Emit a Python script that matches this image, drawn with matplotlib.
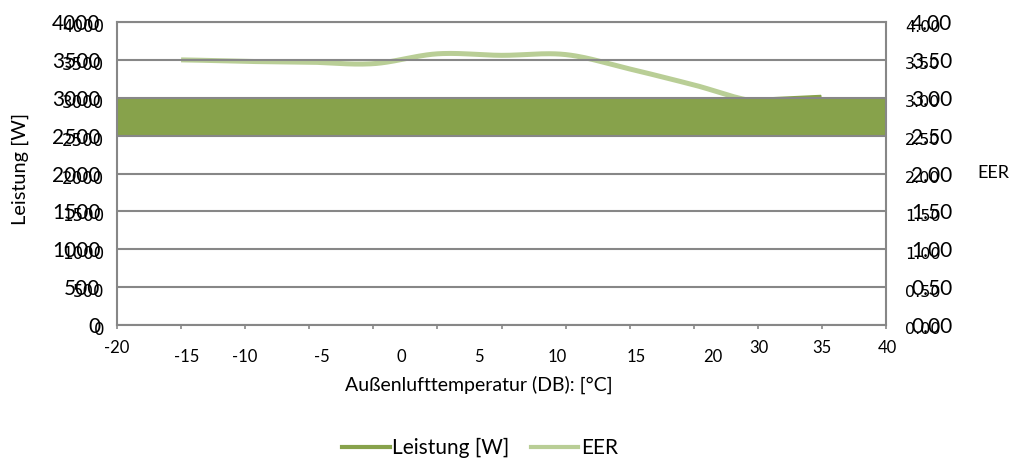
import matplotlib
matplotlib.use('Agg')
import matplotlib.pyplot as plt
import matplotlib.transforms as mtransforms
from matplotlib.lines import Line2D
import numpy as np

plt.rcParams['font.family'] = ['Lato', 'DejaVu Sans']

# category slots on the x axis; the series sit on slots 1..11
slots = list(range(13))
data_slots = list(range(1, 12))

eer = [3.50, 3.48, 3.47, 3.45, 3.58, 3.56, 3.57, 3.38, 3.17, 2.95, 3.00]
leistung = [2750, 2750, 2750, 2750, 2750, 2750, 2750, 2750, 2750, 2750, 2790]
band_lo = [2500] * 13
band_hi = [3000] * 13

y_ticks = [0, 500, 1000, 1500, 2000, 2500, 3000, 3500, 4000]
eer_ticks = [0.0, 0.5, 1.0, 1.5, 2.0, 2.5, 3.0, 3.5, 4.0]

x_labels_upper = ['-20', '30', '35', '40']
x_labels_upper_pos = [0.0, 10.02, 11.0, 12.02]
x_labels_lower = ['-15', '-10', '-5', '0', '5', '10', '15', '20']
x_labels_lower_pos = [1.08, 2.0, 3.2, 4.43, 5.65, 6.87, 8.1, 9.3]

DARK = '#87A24B'
LIGHT = '#B9CE96'
GREY = '#878787'


def smooth(x, y, n=24):
    # cubic Hermite with Catmull-Rom tangents (uniform slot spacing)
    x = np.asarray(x, float)
    y = np.asarray(y, float)
    yp = np.concatenate([[y[0]], y, [y[-1]]])
    m = (yp[2:] - yp[:-2]) / 2.0
    xs, ys = [], []
    t = np.linspace(0, 1, n, endpoint=False)
    h00 = 2 * t**3 - 3 * t**2 + 1
    h10 = t**3 - 2 * t**2 + t
    h01 = -2 * t**3 + 3 * t**2
    h11 = t**3 - t**2
    for i in range(len(x) - 1):
        dx = x[i + 1] - x[i]
        xs.append(x[i] + t * dx)
        ys.append(h00 * y[i] + h10 * m[i] + h01 * y[i + 1] + h11 * m[i + 1])
    xs.append([x[-1]])
    ys.append([y[-1]])
    return np.concatenate(xs), np.concatenate(ys)


dpi = 100
fig = plt.figure(figsize=(10.12, 4.63), dpi=dpi)
ax_rect = [117 / 1012, 138 / 463, 769 / 1012, 303 / 463]
ax = fig.add_axes(ax_rect)
ax2 = ax.twinx()
ax.set_zorder(2)
ax2.set_zorder(1)
ax.patch.set_visible(False)

ax.set_xlim(0, 12)
ax.set_ylim(0, 4000)
ax2.set_ylim(0, 4)

# EER curve sits behind the Leistung band
sx, sy = smooth(data_slots, eer)
ax2.plot(sx, sy, color=LIGHT, lw=3.6, solid_capstyle='butt')

ax.fill_between(slots, band_lo, band_hi, color=DARK, lw=0, zorder=1)
# Leistung drawn as a thick line whose width spans 500 W
band_px = fig.get_figheight() * dpi * ax_rect[3] * 500 / 4000
ax.plot(data_slots, leistung, color=DARK, lw=band_px * 72 / dpi,
        solid_capstyle='butt', zorder=1.5)

ax.set_axisbelow(False)
ax.yaxis.grid(True, color=GREY, lw=1.5)
for side in ['left', 'right', 'bottom', 'top']:
    ax.spines[side].set_color(GREY)
    ax.spines[side].set_linewidth(1.5)
for side in ax2.spines:
    ax2.spines[side].set_visible(False)

ax.set_xticks(slots)
ax.tick_params(axis='x', length=3, width=1.2, color=GREY, labelbottom=False)

ax.set_yticks(y_ticks, [str(v) for v in y_ticks])
ax.tick_params(axis='y', length=0, pad=12, labelsize=15)
ax2.set_yticks(eer_ticks, ['%.2f' % v for v in eer_ticks])
ax2.tick_params(axis='y', length=0, pad=18, labelsize=15)

# second, smaller set of axis numbers
ltr = mtransforms.offset_copy(ax.get_yaxis_transform(), fig=fig, x=-13, y=-5, units='dots')
for v in y_ticks:
    ax.text(0, v, str(v), transform=ltr, ha='right', va='center',
            fontsize=12, family='DejaVu Sans')
rtr = mtransforms.offset_copy(ax2.get_yaxis_transform(), fig=fig, x=19, y=-5, units='dots')
for v in eer_ticks:
    ax2.text(1, v, '%.2f' % v, transform=rtr, ha='left', va='center',
             fontsize=11.5, family='DejaVu Sans')

xtr_up = mtransforms.offset_copy(ax.get_xaxis_transform(), fig=fig, x=0, y=-23, units='dots')
for lab, pos in zip(x_labels_upper, x_labels_upper_pos):
    ax.text(pos, 0, lab, transform=xtr_up, ha='center', va='center', fontsize=12)
xtr_lo = mtransforms.offset_copy(ax.get_xaxis_transform(), fig=fig, x=0, y=-32, units='dots')
for lab, pos in zip(x_labels_lower, x_labels_lower_pos):
    ax.text(pos, 0, lab, transform=xtr_lo, ha='center', va='center', fontsize=12)

fig.text(479 / 1012, 1 - 385 / 463, 'Außenlufttemperatur (DB): [°C]',
         ha='center', va='center', fontsize=14)
fig.text(20 / 1012, 1 - 169 / 463, 'Leistung [W]', rotation=90,
         ha='center', va='center', fontsize=14.4)
fig.text(977 / 1012, 1 - 173 / 463, 'EER', ha='left', va='center', fontsize=13)

handles = [Line2D([], [], color=DARK, lw=3),
           Line2D([], [], color=LIGHT, lw=3)]
fig.legend(handles, ['Leistung [W]', 'EER'], loc='center',
           bbox_to_anchor=(480 / 1012, 1 - 448 / 463), ncol=2, frameon=False,
           fontsize=15, handlelength=2.3, handletextpad=0.14, columnspacing=1.0)

fig.savefig('out.png', dpi=dpi)
